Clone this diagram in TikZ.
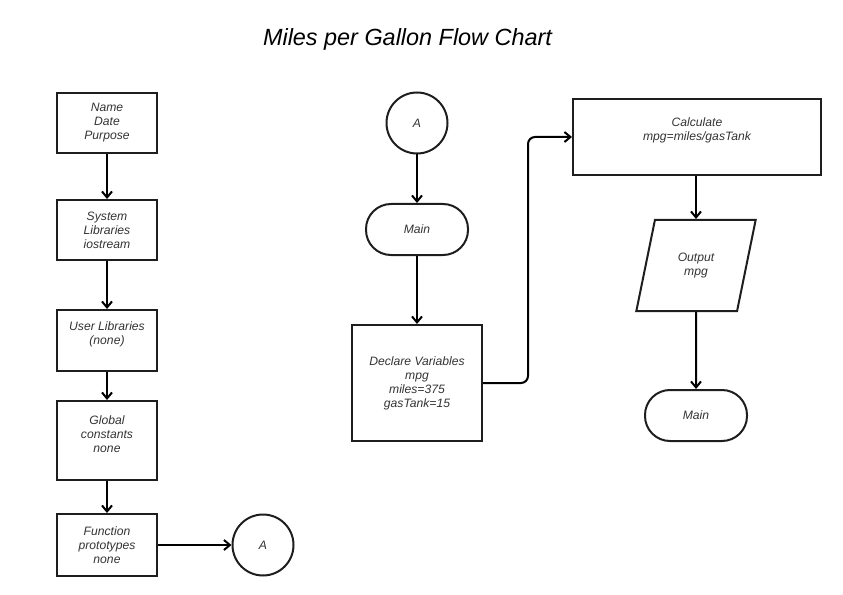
\documentclass[tikz,border=0pt]{standalone}
\usepackage{fontspec}
\setmainfont{Liberation Sans}
\usetikzlibrary{arrows.meta,shapes.geometric,calc}
\definecolor{edge}{HTML}{1E1E1E}
\definecolor{ink}{HTML}{333333}
\tikzset{
  base/.style={draw=edge, line width=2bp, inner sep=0pt, font=\fontsize{12.2}{14}\selectfont\itshape, text=ink, align=center},
  box/.style={base, rectangle},
  term/.style={base, rectangle, rounded corners=25bp, minimum width=102bp, minimum height=51bp},
  conn/.style={base, circle, minimum size=61bp},
  io/.style={base, trapezium, trapezium left angle=71.7, trapezium right angle=108.3, trapezium stretches=true, minimum width=120bp, minimum height=91bp},
  txt/.style={font=\fontsize{12.2}{14}\selectfont\itshape, text=ink, align=center, inner sep=0pt},
  arr/.style={draw=black, line width=2bp, -{Straight Barb[length=6bp,width=10bp,line width=2bp]}}
}
\begin{document}
\begin{tikzpicture}[x=1bp,y=-1bp]
\useasboundingbox (0,0) rectangle (843,595);
\node[font=\fontsize{23.5}{28}\selectfont\itshape, text=black] (title) at (407.5,39) {Miles per Gallon Flow Chart};
% left column
\node[box, minimum width=100bp, minimum height=60bp] (b1) at (107,123) {Name\\Date\\Purpose};
\node[box, minimum width=100bp, minimum height=60bp] (b2) at (107,230) {System\\Libraries\\iostream};
\node[box, minimum width=100bp, minimum height=61bp] (b3) at (107,340.5) {};
\node[txt] (t3) at (107,334.5) {User Libraries\\(none)};
\node[box, minimum width=100bp, minimum height=79bp] (b4) at (107,440.5) {};
\node[txt] (t4) at (107,434) {Global\\constants\\none};
\node[box, minimum width=100bp, minimum height=62bp] (b5) at (107,545) {Function\\prototypes\\none};
\node[conn] (a1) at (263,545) {A};
\draw[arr] (b1) -- (b2);
\draw[arr] (b2) -- (b3);
\draw[arr] (b3) -- (b4);
\draw[arr] (b4) -- (b5);
\draw[arr] (b5) -- (a1);
% middle column
\node[conn] (a2) at (417,123) {A};
\node[term] (m1) at (417,229.5) {Main};
\node[box, minimum width=130bp, minimum height=116bp] (decl) at (417,383) {Declare Variables\\mpg\\miles=375\\gasTank=15};
\draw[arr] (a2) -- (m1);
\draw[arr] (m1) -- (decl);
% right column
\node[box, minimum width=248bp, minimum height=76bp] (calc) at (697,137) {};
\node[txt] (tc) at (697,130) {Calculate\\mpg=miles/gasTank};
\node[io] (out) at (696,265.5) {Output\\mpg};
\node[term] (m2) at (696,415.5) {Main};
\draw[arr, rounded corners=7bp] (decl.east) -- ++(45,0) |- (calc.west);
\draw[arr] (calc.south -| out.north) -- (out.north);
\draw[arr] (out.south) -- (m2.north);
\end{tikzpicture}
\end{document}
